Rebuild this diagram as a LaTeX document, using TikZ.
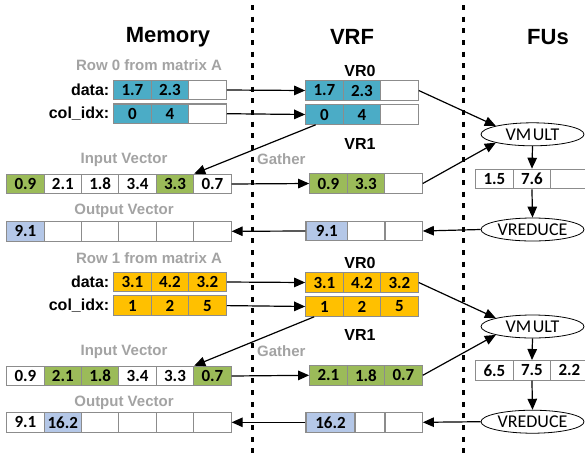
\documentclass[tikz,border=0pt]{standalone}
\usepackage{fontspec}
\setmainfont{Liberation Sans}
\newfontfamily\calfont{Carlito}
\usetikzlibrary{arrows.meta,shapes.geometric,calc}
\definecolor{cteal}{HTML}{4BACC6}
\definecolor{cgreen}{HTML}{9BBB59}
\definecolor{cgold}{HTML}{FFC000}
\definecolor{cblue}{HTML}{B4C7E7}
\definecolor{cborder}{HTML}{8C8C8C}
\definecolor{lblgray}{HTML}{A3A3A3}
\begin{document}
\begin{tikzpicture}[x=1pt,y=-1pt,
  cell/.style={draw=cborder, line width=1.1pt, minimum width=37.5pt, minimum height=19.5pt, inner sep=0pt, font=\calfont\bfseries\fontsize{17}{19}\selectfont},
  title/.style={inner sep=0pt, font=\bfseries\fontsize{22}{26}\selectfont},
  lbl/.style={inner sep=0pt, font=\bfseries\fontsize{16}{19}\selectfont},
  glbl/.style={inner sep=0pt, text=lblgray, font=\bfseries\fontsize{15}{18}\selectfont},
  fu/.style={ellipse, draw, line width=0.8pt, minimum width=103pt, minimum height=23pt, inner sep=0pt, fill=white, font=\calfont\fontsize{18}{20}\selectfont},
  conn/.style={line width=1.2pt, -{Triangle[length=11pt,width=9.5pt]}},
  divider/.style={line width=2.7pt, dash pattern=on 5pt off 6.67pt}
  ]
\clip (0,0) rectangle (585,453);
\fill[white] (0,0) rectangle (585,453);

% dividers
\coordinate (dlt) at (252.3,5); \coordinate (dlb) at (252.3,453);
\coordinate (drt) at (463.3,5); \coordinate (drb) at (463.3,453);
\draw[divider] (dlt) -- (dlb);
\draw[divider] (drt) -- (drb);

% titles
\node[title] (tmem) at (168,37) {Memory};
\node[title] (tvrf) at (352,37) {VRF};
\node[title] (tfu) at (548,37) {FUs};

% ================= first half =================
\node[glbl] (row0) at (149,65) {Row 0 from matrix A};
\node[lbl,anchor=east] (ldata1) at (109.5,90) {data:};
\node[lbl,anchor=east] (lcol1) at (109.5,113.7) {col\_idx:};
\foreach \t/\f [count=\i] in {1.7/cteal,2.3/cteal,{}/white}
  \node[cell,fill=\f] (ad\i) at ({113.7+37.5*(\i-0.5)},90) {\t};
\foreach \t/\f [count=\i] in {0/cteal,4/cteal,{}/white}
  \node[cell,fill=\f] (ac\i) at ({113.7+37.5*(\i-0.5)},113.7) {\t};
\node[glbl] (iv1) at (124,160) {Input Vector};
\foreach \t/\f [count=\i] in {0.9/cgreen,2.1/white,1.8/white,3.4/white,3.3/cgreen,0.7/white}
  \node[cell,fill=\f,minimum width=37.4pt] (ai\i) at ({6.7+37.4*(\i-0.5)},184) {\t};
\node[glbl] (ov1) at (124,211) {Output Vector};
\foreach \t/\f [count=\i] in {9.1/cblue,{}/white,{}/white,{}/white,{}/white,{}/white}
  \node[cell,fill=\f,minimum width=37.4pt] (ao\i) at ({6.7+37.4*(\i-0.5)},231.3) {\t};

% VRF
\node[lbl] (vr0a) at (360,71) {VR0};
\foreach \t/\f [count=\i] in {1.7/cteal,2.3/cteal,{}/white}
  \node[cell,fill=\f] (vd\i) at ({305.7+37.5*(\i-0.5)},90.5) {\t};
\foreach \t/\f [count=\i] in {0/cteal,4/cteal,{}/white}
  \node[cell,fill=\f] (vc\i) at ({305.7+37.5*(\i-0.5)},114.5) {\t};
\node[lbl] (vr1a) at (360,144) {VR1};
\node[glbl,anchor=west] (ga1) at (257,159) {Gather};
\foreach \t/\f [count=\i] in {0.9/cgreen,3.3/cgreen,{}/white}
  \node[cell,fill=\f] (vi\i) at ({309.7+37.5*(\i-0.5)},183.5) {\t};
\node[cell,fill=cblue,minimum width=41.7pt] (vo1) at (326.85,231) {9.1};
\node[cell,minimum width=37.3pt] (vo2) at (366.35,231) {};
\node[cell,minimum width=37.3pt] (vo3) at (403.65,231) {};

% FUs
\node[fu] (vm1) at (532.5,134.3) {VM\kern1.5pt ULT};
\foreach \t [count=\i] in {1.5,7.6,{}}
  \node[cell,fill=white] (fp\i) at ({475.7+37.5*(\i-0.5)},179) {\t};
\node[fu] (vr1) at (532.5,229.5) {VREDUCE};

% connectors
\draw[conn] (ad3.east) -- (vd1.west);
\draw[conn] (ac3.east) -- (vc1.west);
\draw[conn] ($(vc1.south west)+(10.5,0)$) -- (ai5.north east);
\draw[conn] (ai6.east) -- (vi1.west);
\draw[conn] (vd3.east) -- (vm1.north west);
\draw[conn] (vi3.east) -- (vm1.south west);
\draw[conn] (vm1.south) -- (fp2.north);
\draw[conn] (fp2.south) -- (vr1.north);
\draw[conn] (vr1.west) -- (vo3.east);
\draw[conn] (vo1.west) -- (ao6.east);

% ================= second half =================
\node[glbl] (row1) at (149,258) {Row 1 from matrix A};
\node[lbl,anchor=east] (ldata2) at (109.5,282) {data:};
\node[lbl,anchor=east] (lcol2) at (109.5,305.6) {col\_idx:};
\foreach \t [count=\i] in {3.1,4.2,3.2}
  \node[cell,fill=cgold] (bd\i) at ({113.7+37.5*(\i-0.5)},282) {\t};
\foreach \t [count=\i] in {1,2,5}
  \node[cell,fill=cgold] (bc\i) at ({113.7+37.5*(\i-0.5)},305.6) {\t};
\node[glbl] (iv2) at (124,352) {Input Vector};
\foreach \t/\f [count=\i] in {0.9/white,2.1/cgreen,1.8/cgreen,3.4/white,3.3/white,0.7/cgreen}
  \node[cell,fill=\f,minimum width=37.4pt] (bi\i) at ({6.7+37.4*(\i-0.5)},376) {\t};
\node[glbl] (ov2) at (124,403) {Output Vector};
\foreach \t/\f [count=\i] in {9.1/white,16.2/cblue,{}/white,{}/white,{}/white,{}/white}
  \node[cell,fill=\f,minimum width=37.4pt] (bo\i) at ({6.7+37.4*(\i-0.5)},422.3) {\t};

% VRF
\node[lbl] (vr0b) at (360,263) {VR0};
\foreach \t [count=\i] in {3.1,4.2,3.2}
  \node[cell,fill=cgold] (wd\i) at ({305.7+37.5*(\i-0.5)},282.5) {\t};
\foreach \t [count=\i] in {1,2,5}
  \node[cell,fill=cgold] (wc\i) at ({305.7+37.5*(\i-0.5)},306.5) {\t};
\node[lbl] (vr1b) at (360,335) {VR1};
\node[glbl,anchor=west] (ga2) at (257,351) {Gather};
\foreach \t [count=\i] in {2.1,1.8,0.7}
  \node[cell,fill=cgreen] (wi\i) at ({309.7+37.5*(\i-0.5)},375.3) {\t};
\node[cell,fill=cblue,minimum width=49pt] (wo1) at (330.5,422.3) {16.2};
\node[cell,minimum width=30pt] (wo2) at (370,422.3) {};
\node[cell,minimum width=37.3pt] (wo3) at (403.65,422.3) {};

% FUs
\node[fu] (vm2) at (532.5,326.5) {VM\kern1.5pt ULT};
\foreach \t [count=\i] in {6.5,7.5,2.2}
  \node[cell,fill=white] (gp\i) at ({475.7+37.5*(\i-0.5)},370.3) {\t};
\node[fu] (vr2) at (532.5,421.7) {VREDUCE};

% connectors
\draw[conn] (bd3.east) -- (wd1.west);
\draw[conn] (bc3.east) -- (wc1.west);
\draw[conn] ($(wc1.south west)+(9,0)$) -- (bi5.north east);
\draw[conn] (bi6.east) -- (wi1.west);
\draw[conn] (wd3.east) -- (vm2.north west);
\draw[conn] (wi3.east) -- (vm2.south west);
\draw[conn] (vm2.south) -- (gp2.north);
\draw[conn] (gp2.south) -- (vr2.north);
\draw[conn] (vr2.west) -- (wo3.east);
\draw[conn] (wo1.west) -- (bo6.east);
\end{tikzpicture}
\end{document}
